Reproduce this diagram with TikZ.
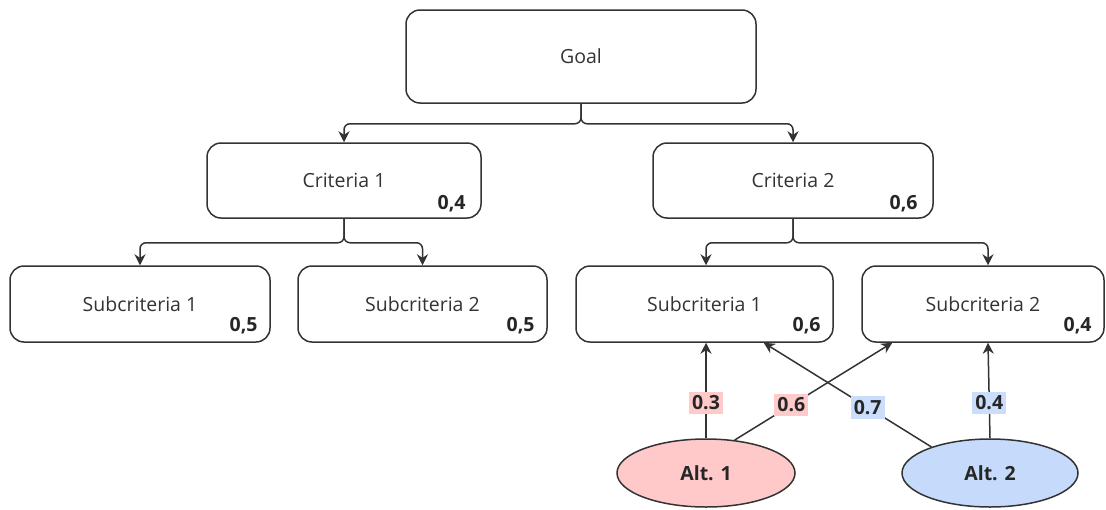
\documentclass[tikz,border=0pt]{standalone}
\usepackage{fontspec}
\setmainfont{Open Sans}
\usetikzlibrary{arrows.meta,shapes.geometric,calc}
\definecolor{linegray}{HTML}{333333}
\definecolor{altred}{HTML}{FFC9C9}
\definecolor{altblue}{HTML}{C6DBFB}
\definecolor{lblred}{HTML}{FFCACA}
\definecolor{lblblue}{HTML}{CADEFC}
\tikzset{
  box/.style={draw=linegray, line width=1.5pt, rounded corners=14pt, fill=white,
    font=\fontsize{19.5}{22}\selectfont, text=linegray},
  weight/.style={anchor=base east, font=\fontsize{19.5}{22}\selectfont\bfseries, text=black!85, inner sep=0pt},
  alt/.style={ellipse, draw=linegray, line width=1.5pt, font=\fontsize{19.5}{22}\selectfont\bfseries,
    text=black!85, inner sep=0pt},
  conn/.style={draw=linegray, line width=1.5pt, rounded corners=6pt,
    -{Stealth[length=11pt,width=11pt]}},
  wlbl/.style={font=\fontsize{19.5}{22}\selectfont\bfseries, inner xsep=3pt, inner ysep=4pt,
    text=black!85, sharp corners, draw=none},
}
\begin{document}
\begin{tikzpicture}[x=1pt,y=-1pt]
\useasboundingbox (0,0) rectangle (1106,509);

% hierarchy boxes
\node[box, minimum width=350pt, minimum height=93pt] (goal) at (581,56.5) {Goal};
\node[box, minimum width=274pt, minimum height=75pt] (c1) at (344,180.5) {Criteria 1};
\node[box, minimum width=280pt, minimum height=75pt] (c2) at (793,180.5) {Criteria 2};
\node[box, minimum width=260pt, minimum height=76pt] (s11) at (140,304) {Subcriteria 1};
\node[box, minimum width=249pt, minimum height=76pt] (s12) at (422.5,304) {Subcriteria 2};
\node[box, minimum width=257pt, minimum height=76pt] (s21) at (704.5,304) {Subcriteria 1};
\node[box, minimum width=242pt, minimum height=76pt] (s22) at (983,304) {Subcriteria 2};

% local weights
\node[weight] (wc1) at ([shift={(-16,-9)}]c1.south east) {0,4};
\node[weight] (wc2) at ([shift={(-16,-9)}]c2.south east) {0,6};
\node[weight] (w11) at ([shift={(-13,-11)}]s11.south east) {0,5};
\node[weight] (w12) at ([shift={(-13,-11)}]s12.south east) {0,5};
\node[weight] (w21) at ([shift={(-13,-11)}]s21.south east) {0,6};
\node[weight] (w22) at ([shift={(-13,-11)}]s22.south east) {0,4};

% alternatives
\node[alt, fill=altred, minimum width=178pt, minimum height=68pt] (a1) at (706,473) {Alt. 1};
\node[alt, fill=altblue, minimum width=176pt, minimum height=68pt] (a2) at (990,473) {Alt. 2};

% tree connectors
\draw[conn] (goal.south) -- ++(0,20) -| (c1.north);
\draw[conn] (goal.south) -- ++(0,20) -| (c2.north);
\draw[conn] (c1.south) -- ++(0,24) -| (s11.north);
\draw[conn] (c1.south) -- ++(0,24) -| (s12.north);
\draw[conn] (c2.south) -- ++(0,24) -| ([xshift=1.5pt]s21.north);
\draw[conn] (c2.south) -- ++(0,24) -| ([xshift=5pt]s22.north);

% alternative contributions
\draw[conn] (a1.north) -- ([xshift=1.5pt]s21.south)
  node[wlbl, fill=lblred, pos=0.37] (l13) {0.3};
\draw[conn] (a1.49) -- ([xshift=31pt]s22.south west)
  node[wlbl, fill=lblred, pos=0.36] (l16) {0.6};
\draw[conn] (a2.156) -- ([xshift=-70pt]s21.south east)
  node[wlbl, fill=lblblue, pos=0.38] (l27) {0.7};
\draw[conn] (a2.north) -- ([xshift=5pt]s22.south)
  node[wlbl, fill=lblblue, pos=0.37] (l24) {0.4};
\end{tikzpicture}
\end{document}
